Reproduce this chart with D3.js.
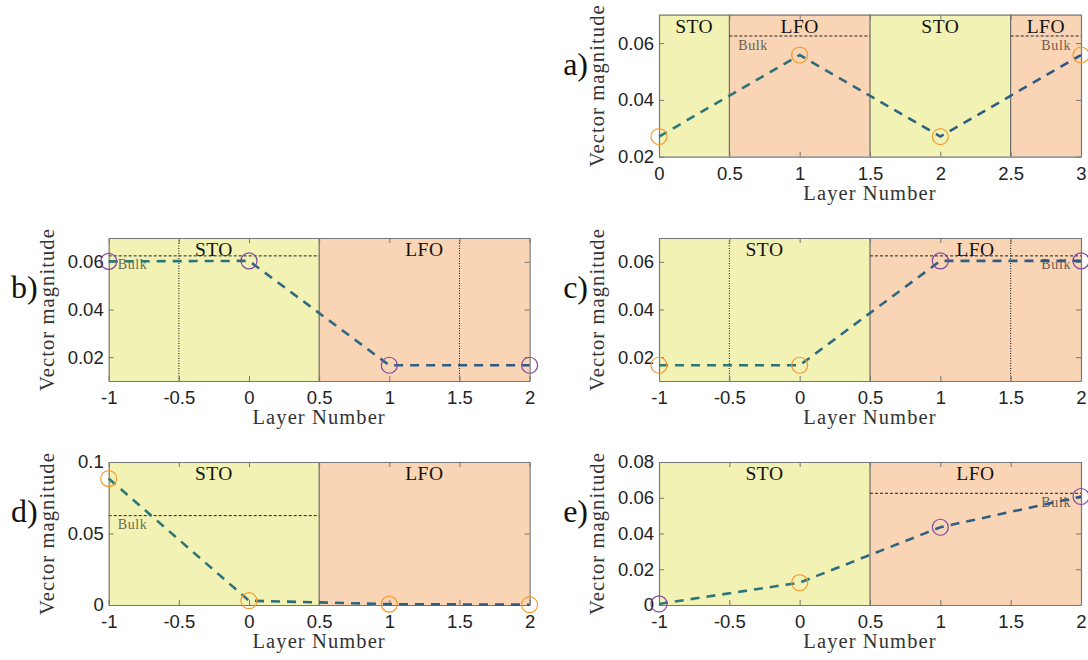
<!DOCTYPE html>
<html>
  <head>
    <meta charset="utf-8" />
    <title>Vector magnitude per layer</title>
    <script src="https://d3js.org/d3.v7.min.js"></script>
    <style>
      body { margin: 0; background: #fff; }
    </style>
  </head>
  <body>
    <svg width="1088" height="660"></svg>

    <script>
      // Data
      const layersA = [0, 1, 2, 3];
      const layersBE = [-1, 0, 1, 2];

      const valuesA = [0.0271, 0.0558, 0.0271, 0.0558];
      const valuesB = [0.0602, 0.0604, 0.0166, 0.0166];
      const valuesC = [0.0166, 0.0166, 0.0604, 0.0604];
      const valuesD = [0.0884, 0.0030, 0.0006, 0.0002];
      const valuesE = [0.0006, 0.0125, 0.0435, 0.0607];

      // marker colour per point: "o" = orange, "p" = purple
      const markersA = ["o", "o", "o", "o"];
      const markersB = ["p", "p", "p", "p"];
      const markersC = ["o", "o", "p", "p"];
      const markersD = ["o", "o", "o", "o"];
      const markersE = ["p", "o", "p", "p"];

      const bulkValue = 0.0625;

      const regionsA = [
        { name: "STO", from: 0, to: 0.5 },
        { name: "LFO", from: 0.5, to: 1.5 },
        { name: "STO", from: 1.5, to: 2.5 },
        { name: "LFO", from: 2.5, to: 3 }
      ];
      const regionsBE = [
        { name: "STO", from: -1, to: 0.5 },
        { name: "LFO", from: 0.5, to: 2 }
      ];

      const xTicksA = [0, 0.5, 1, 1.5, 2, 2.5, 3];
      const xTicksBE = [-1, -0.5, 0, 0.5, 1, 1.5, 2];
      const yTicksABC = [0.02, 0.04, 0.06];
      const yTicksD = [0, 0.05, 0.1];
      const yTicksE = [0, 0.02, 0.04, 0.06, 0.08];

      const dottedB = [-0.5, 1.5];

      const yellow = "#f2f2b5";
      const peach = "#f9d5b5";
      const orange = "#f39b30";
      const purple = "#7f48a0";
      const serif = "'Liberation Serif', 'DejaVu Serif', serif";
      const sans = "'Liberation Sans', Arial, sans-serif";

      const svg = d3.select("svg");
      const defs = svg.append("defs");

      const panels = [
        { id: "a", xs: layersA, ys: valuesA, marks: markersA, regions: regionsA,
          bulk: [[0.5, 1.5, "left"], [2.5, 3, "right"]], dotted: [],
          xDomain: [0, 3], yDomain: [0.02, 0.07], xTicks: xTicksA, yTicks: yTicksABC,
          left: 659, right: 1081, top: 14.7, bottom: 156.7 },
        { id: "b", xs: layersBE, ys: valuesB, marks: markersB, regions: regionsBE,
          bulk: [[-1, 0.5, "left"]], dotted: dottedB,
          xDomain: [-1, 2], yDomain: [0.01, 0.07], xTicks: xTicksBE, yTicks: yTicksABC,
          left: 108.7, right: 529.6, top: 238, bottom: 381 },
        { id: "c", xs: layersBE, ys: valuesC, marks: markersC, regions: regionsBE,
          bulk: [[0.5, 2, "right"]], dotted: dottedB,
          xDomain: [-1, 2], yDomain: [0.01, 0.07], xTicks: xTicksBE, yTicks: yTicksABC,
          left: 659, right: 1081, top: 238, bottom: 381 },
        { id: "d", xs: layersBE, ys: valuesD, marks: markersD, regions: regionsBE,
          bulk: [[-1, 0.5, "left"]], dotted: [],
          xDomain: [-1, 2], yDomain: [0, 0.1], xTicks: xTicksBE, yTicks: yTicksD,
          left: 108.7, right: 529.6, top: 462, bottom: 605 },
        { id: "e", xs: layersBE, ys: valuesE, marks: markersE, regions: regionsBE,
          bulk: [[0.5, 2, "right"]], dotted: [],
          xDomain: [-1, 2], yDomain: [0, 0.08], xTicks: xTicksBE, yTicks: yTicksE,
          left: 659, right: 1081, top: 462, bottom: 605 }
      ];

      panels.forEach(drawPanel);

      function drawPanel(p) {
        const g = svg.append("g");
        const x = d3.scaleLinear().domain(p.xDomain).range([p.left, p.right]);
        const y = d3.scaleLinear().domain(p.yDomain).range([p.bottom, p.top]);

        // background regions
        g.selectAll(".region")
          .data(p.regions)
          .join("rect")
          .attr("x", d => x(d.from))
          .attr("width", d => x(d.to) - x(d.from))
          .attr("y", p.top)
          .attr("height", p.bottom - p.top)
          .attr("fill", d => d.name === "STO" ? yellow : peach);

        // region names
        g.selectAll(".rname")
          .data(p.regions)
          .join("text")
          .text(d => d.name)
          .attr("x", d => x((d.from + d.to) / 2))
          .attr("y", p.top + 18)
          .attr("text-anchor", "middle")
          .style("font-family", serif)
          .style("font-size", "19.5px")
          .style("letter-spacing", "0.5px")
          .style("fill", "#111");

        // boundaries between regions
        g.selectAll(".bound")
          .data(p.regions.slice(1))
          .join("line")
          .attr("x1", d => x(d.from)).attr("x2", d => x(d.from))
          .attr("y1", p.top).attr("y2", p.bottom)
          .attr("stroke", "#555")
          .attr("stroke-width", 1);

        // dotted guide lines
        g.selectAll(".dot")
          .data(p.dotted)
          .join("line")
          .attr("x1", d => x(d)).attr("x2", d => x(d))
          .attr("y1", p.top).attr("y2", p.bottom)
          .attr("stroke", "#111")
          .attr("stroke-width", 1)
          .attr("stroke-dasharray", "1,1.5");

        // bulk reference lines
        g.selectAll(".bulk")
          .data(p.bulk)
          .join("line")
          .attr("x1", d => x(d[0])).attr("x2", d => x(d[1]))
          .attr("y1", y(bulkValue)).attr("y2", y(bulkValue))
          .attr("stroke", "#222")
          .attr("stroke-width", 1)
          .attr("stroke-dasharray", "3,2");

        g.selectAll(".bulkText")
          .data(p.bulk)
          .join("text")
          .text("Bulk")
          .attr("x", d => d[2] === "left" ? x(d[0]) + 9 : x(d[1]) - 10)
          .attr("y", y(bulkValue) + 13.5)
          .attr("text-anchor", d => d[2] === "left" ? "start" : "end")
          .style("font-family", serif)
          .style("font-size", "14px")
          .style("letter-spacing", "0.6px")
          .style("fill", "#000")
          .style("fill-opacity", 0.6);

        // gradient for the connecting line
        const gid = "grad" + p.id;
        const grad = defs.append("linearGradient")
          .attr("id", gid)
          .attr("gradientUnits", "userSpaceOnUse")
          .attr("x1", p.left).attr("x2", p.right)
          .attr("y1", 0).attr("y2", 0);
        grad.append("stop").attr("offset", "0%").attr("stop-color", "#2c7b76");
        grad.append("stop").attr("offset", "100%").attr("stop-color", "#2f5686");

        const pts = p.xs.map((v, i) => [v, p.ys[i]]);
        const line = d3.line().x(d => x(d[0])).y(d => y(d[1]));

        // axes: ticks inward on all four sides, box around
        const fmt = d => String(d);
        const axB = g.append("g")
          .attr("transform", `translate(0,${p.bottom})`)
          .call(d3.axisBottom(x).tickValues(p.xTicks).tickFormat(fmt)
            .tickSizeInner(-5).tickSizeOuter(0).tickPadding(10));
        const axL = g.append("g")
          .attr("transform", `translate(${p.left},0)`)
          .call(d3.axisLeft(y).tickValues(p.yTicks).tickFormat(fmt)
            .tickSizeInner(-5).tickSizeOuter(0).tickPadding(5));
        const axT = g.append("g")
          .attr("transform", `translate(0,${p.top})`)
          .call(d3.axisTop(x).tickValues(p.xTicks).tickFormat("")
            .tickSizeInner(-5).tickSizeOuter(0));
        const axR = g.append("g")
          .attr("transform", `translate(${p.right},0)`)
          .call(d3.axisRight(y).tickValues(p.yTicks).tickFormat("")
            .tickSizeInner(-5).tickSizeOuter(0));

        [axB, axL, axT, axR].forEach(ax => {
          ax.select(".domain").attr("stroke", "#777").attr("stroke-width", 1.2);
          ax.selectAll(".tick line").attr("stroke", "#777");
          ax.selectAll("text")
            .style("font-family", sans)
            .style("font-size", "18.5px")
            .style("fill", "#222");
        });

        // dashed line through the points
        g.append("path")
          .datum(pts)
          .attr("d", line)
          .attr("fill", "none")
          .attr("stroke", `url(#${gid})`)
          .attr("stroke-width", 2.6)
          .attr("stroke-dasharray", "9,7");

        // markers
        g.selectAll(".mark")
          .data(pts)
          .join("circle")
          .attr("cx", d => x(d[0]))
          .attr("cy", d => y(d[1]))
          .attr("r", 8)
          .attr("fill", "none")
          .attr("stroke", (d, i) => p.marks[i] === "o" ? orange : purple)
          .attr("stroke-width", 1.2);

        // axis titles
        g.append("text")
          .text("Layer Number")
          .attr("x", (p.left + p.right) / 2)
          .attr("y", p.bottom + 43)
          .attr("text-anchor", "middle")
          .style("font-family", serif)
          .style("font-size", "20.5px")
          .style("letter-spacing", "1.1px")
          .style("fill", "#333");

        g.append("text")
          .text("Vector magnitude")
          .attr("transform", `translate(${p.left - 55},${(p.top + p.bottom) / 2}) rotate(-90)`)
          .attr("text-anchor", "middle")
          .style("font-family", serif)
          .style("font-size", "20.5px")
          .style("letter-spacing", "1.1px")
          .style("fill", "#333");

        // panel letter
        g.append("text")
          .text(p.id + ")")
          .attr("x", p.left - 71)
          .attr("y", p.top + 60)
          .attr("text-anchor", "end")
          .style("font-family", serif)
          .style("font-size", "32px")
          .style("fill", "#111");
      }
    </script>
  </body>
</html>
